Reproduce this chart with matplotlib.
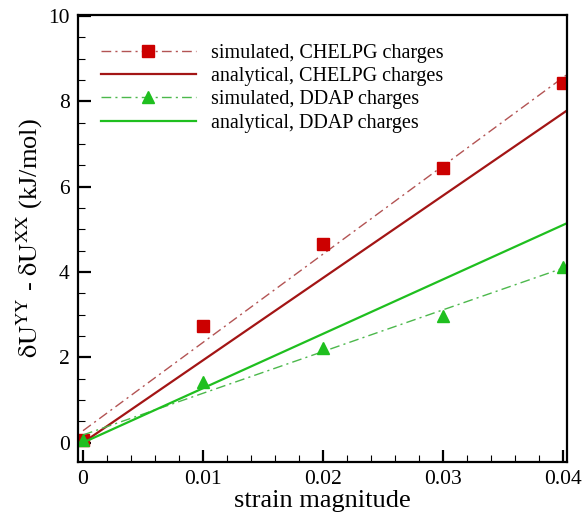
import numpy as np
import matplotlib.pyplot as plt
from matplotlib.ticker import MultipleLocator

plt.rcParams['font.family'] = ['Liberation Serif', 'DejaVu Serif']
plt.rcParams['mathtext.fontset'] = 'stix'

# simulated values (markers)
strain = [0.0, 0.01, 0.02, 0.03, 0.04]
sim_chelpg = [0.05, 2.73, 4.66, 6.43, 8.43]
sim_ddap = [0.05, 1.42, 2.22, 2.98, 4.12]

# fitted / analytical straight lines (end points)
line_x = [0.0, 0.0403]
fit_chelpg = [0.28, 8.62]
ana_chelpg = [0.0, 7.78]
fit_ddap = [0.18, 4.12]
ana_ddap = [0.0, 5.14]

red = '#cc0000'
dark_red = '#a31515'
red_dd = '#b35454'
green = '#1fbf1f'
green_dd = '#4cb84c'

fig = plt.figure(figsize=(5.82, 5.12), dpi=100)
ax = fig.add_axes([0.134, 0.098, 0.84, 0.873])

l1, = ax.plot(line_x, fit_chelpg, color=red_dd, lw=1.0, ls=(0, (7, 3, 1.5, 3)))
m1, = ax.plot(strain, sim_chelpg, ls='none', marker='s', ms=8.5, color=red)
l2, = ax.plot(line_x, ana_chelpg, color=dark_red, lw=1.6)
l3, = ax.plot(line_x, fit_ddap, color=green_dd, lw=1.0, ls=(0, (7, 3, 1.5, 3)))
m3, = ax.plot(strain, sim_ddap, ls='none', marker='^', ms=9, color=green)
l4, = ax.plot(line_x, ana_ddap, color=green, lw=1.6)

ax.set_xlim(-0.00042, 0.04033)
ax.set_ylim(-0.45, 10.03)
ax.xaxis.set_major_locator(MultipleLocator(0.01))
ax.xaxis.set_minor_locator(MultipleLocator(0.002))
ax.yaxis.set_major_locator(MultipleLocator(2))
ax.yaxis.set_minor_locator(MultipleLocator(0.5))
ax.set_xticks([0, 0.01, 0.02, 0.03, 0.04])
ax.set_xticklabels(['0', '0.01', '0.02', '0.03', '0.04'])
ax.tick_params(which='both', direction='in', top=False, right=False, labelsize=15.5, pad=6)
ax.tick_params(which='major', length=9, width=1.6)
ax.tick_params(which='minor', length=5, width=0.8)
for s in ax.spines.values():
    s.set_linewidth(1.6)

ax.set_xlabel('strain magnitude', fontsize=19, labelpad=0.5)
ax.set_ylabel(r'$\mathrm{\delta U^{YY}}$ - $\mathrm{\delta U^{XX}}$ (kJ/mol)', fontsize=19, labelpad=2)

ax.legend([(l1, m1), l2, (l3, m3), l4],
          ['simulated, CHELPG charges', 'analytical, CHELPG charges',
           'simulated, DDAP charges', 'analytical, DDAP charges'],
          loc='upper left', bbox_to_anchor=(0.01, 0.975), frameon=False,
          fontsize=14.5, handlelength=4.7, handletextpad=0.75, labelspacing=0.2)

fig.savefig('out.png', dpi=100)
